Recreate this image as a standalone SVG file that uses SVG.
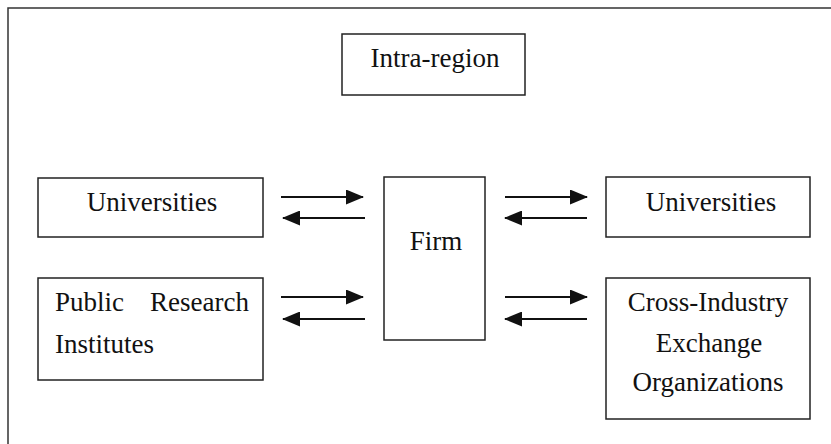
<svg xmlns="http://www.w3.org/2000/svg" width="831" height="444" viewBox="0 0 831 444">
<style>
.box{fill:#fff;stroke:#222;stroke-width:1.5}
.frame{fill:none;stroke:#333;stroke-width:1.5}
.t{font-family:"Liberation Serif","Times New Roman",serif;font-size:27px;fill:#111}
.c{text-anchor:middle}
.arr{stroke:#111;stroke-width:2;fill:none;marker-end:url(#ah)}
</style>
<defs>
<marker id="ah" viewBox="0 0 18 15" refX="17" refY="7.5" markerWidth="18" markerHeight="15" markerUnits="userSpaceOnUse" orient="auto">
<path d="M0,0 L18,7.5 L0,15 Z" fill="#111"/>
</marker>
</defs>
<rect width="831" height="444" fill="#fff"/>
<path class="frame" d="M8,444 V8 H831"/>
<g id="intra-region">
<rect class="box" x="342" y="34" width="183" height="61"/>
<text class="t c" x="435" y="67">Intra-region</text>
</g>
<g id="universities-left">
<rect class="box" x="38" y="178" width="225" height="59"/>
<text class="t c" x="152" y="211">Universities</text>
</g>
<g id="public-research">
<rect class="box" x="38" y="278" width="225" height="102"/>
<text class="t" x="55" y="311">Public</text>
<text class="t" x="249" y="311" text-anchor="end">Research</text>
<text class="t" x="55" y="353">Institutes</text>
</g>
<g id="firm">
<rect class="box" x="384" y="177" width="101" height="163"/>
<text class="t c" x="436" y="250">Firm</text>
</g>
<g id="universities-right">
<rect class="box" x="606" y="177" width="204" height="60"/>
<text class="t c" x="711" y="211">Universities</text>
</g>
<g id="cross-industry">
<rect class="box" x="606" y="278" width="204" height="141"/>
<text class="t c" x="708" y="311">Cross-Industry</text>
<text class="t c" x="709" y="352">Exchange</text>
<text class="t c" x="708" y="391">Organizations</text>
</g>
<g id="connectors">
<line class="arr" x1="281" y1="197" x2="363" y2="197"/>
<line class="arr" x1="365" y1="218" x2="283" y2="218"/>
<line class="arr" x1="281" y1="297" x2="363" y2="297"/>
<line class="arr" x1="365" y1="319" x2="283" y2="319"/>
<line class="arr" x1="505" y1="197" x2="587" y2="197"/>
<line class="arr" x1="587" y1="218" x2="505" y2="218"/>
<line class="arr" x1="505" y1="297" x2="587" y2="297"/>
<line class="arr" x1="587" y1="319" x2="505" y2="319"/>
</g>
</svg>
